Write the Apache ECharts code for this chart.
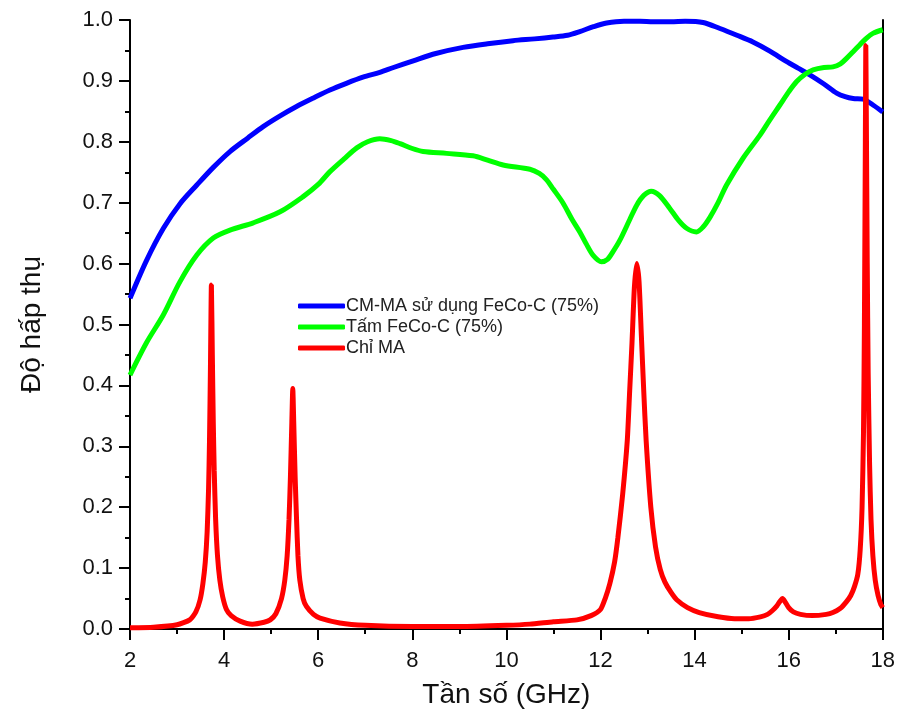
<!DOCTYPE html>
<html>
<head>
<meta charset="utf-8">
<script src="https://cdn.jsdelivr.net/npm/echarts@6/dist/echarts.min.js"></script>
<style>html,body{margin:0;padding:0;background:#fff;}#c{width:898px;height:725px;}</style>
</head>
<body>
<div id="c"></div>
<script>
// ---- data ----
const seriesNames = ['CM-MA sử dụng FeCo-C (75%)', 'Tấm FeCo-C (75%)', 'Chỉ MA'];
const xTickLabels = ['2', '4', '6', '8', '10', '12', '14', '16', '18'];

const blueX = [2.0, 2.35, 2.71, 3.06, 3.42, 3.77, 4.125, 4.5, 4.83, 5.2, 5.54, 5.9, 6.25, 6.6, 6.95, 7.31, 7.6, 8.02, 8.5, 9.08, 9.6, 10.14, 10.6, 10.99, 11.3, 11.56, 11.85, 12.13, 12.5, 12.84, 13.12, 13.5, 13.8, 14.18, 14.54, 14.9, 15.24, 15.6, 15.95, 16.2, 16.45, 16.75, 17.02, 17.2, 17.37, 17.58, 17.8, 18.0];
const blueY = [0.543, 0.605, 0.658, 0.698, 0.729, 0.758, 0.784, 0.806, 0.825, 0.843, 0.858, 0.872, 0.885, 0.896, 0.906, 0.914, 0.922, 0.933, 0.945, 0.955, 0.961, 0.966, 0.969, 0.972, 0.975, 0.981, 0.989, 0.995, 0.998, 0.998, 0.997, 0.997, 0.998, 0.996, 0.986, 0.975, 0.964, 0.949, 0.932, 0.921, 0.910, 0.895, 0.880, 0.874, 0.871, 0.870, 0.860, 0.849];

const greenX = [2.0, 2.35, 2.71, 3.06, 3.42, 3.77, 4.125, 4.62, 5.19, 5.68, 6.0, 6.25, 6.55, 6.82, 7.05, 7.31, 7.55, 7.74, 8.0, 8.23, 8.73, 9.29, 9.6, 9.93, 10.5, 10.7, 10.85, 11.0, 11.2, 11.4, 11.56, 11.7, 11.84, 12.02, 12.15, 12.27, 12.41, 12.62, 12.77, 12.92, 13.08, 13.25, 13.47, 13.65, 13.83, 14.04, 14.18, 14.32, 14.5, 14.68, 15.03, 15.39, 15.6, 15.81, 16.0, 16.17, 16.35, 16.52, 16.75, 16.94, 17.1, 17.23, 17.37, 17.51, 17.65, 17.79, 18.0];
const greenY = [0.417, 0.470, 0.516, 0.570, 0.614, 0.642, 0.655, 0.667, 0.685, 0.710, 0.730, 0.751, 0.772, 0.790, 0.800, 0.805, 0.802, 0.797, 0.789, 0.784, 0.781, 0.777, 0.770, 0.762, 0.755, 0.748, 0.738, 0.722, 0.700, 0.672, 0.652, 0.632, 0.614, 0.603, 0.607, 0.620, 0.638, 0.672, 0.696, 0.712, 0.719, 0.712, 0.691, 0.672, 0.658, 0.652, 0.660, 0.675, 0.700, 0.729, 0.773, 0.811, 0.836, 0.860, 0.882, 0.899, 0.911, 0.918, 0.922, 0.923, 0.928, 0.937, 0.948, 0.959, 0.970, 0.978, 0.984];

const redX = [2.0, 2.5, 3.0, 3.27, 3.4, 3.49, 3.55, 3.6, 3.64, 3.67, 3.69, 3.71, 3.73, 3.75, 3.77, 3.79, 3.82, 3.86, 3.91, 3.97, 4.05, 4.15, 4.34, 4.6, 4.85, 4.98, 5.1, 5.22, 5.29, 5.34, 5.38, 5.41, 5.44, 5.46, 5.48, 5.51, 5.54, 5.57, 5.61, 5.68, 5.75, 5.9, 6.04, 6.46, 7.0, 8.0, 9.0, 10.0, 10.5, 11.0, 11.5, 11.8, 12.0, 12.1, 12.2, 12.3, 12.37, 12.47, 12.57, 12.62, 12.67, 12.72, 12.77, 12.82, 12.87, 12.92, 12.97, 13.07, 13.17, 13.27, 13.37, 13.5, 13.62, 13.85, 14.1, 14.5, 14.85, 15.15, 15.4, 15.55, 15.65, 15.75, 15.82, 15.87, 15.92, 16.0, 16.1, 16.25, 16.5, 16.8, 16.94, 17.1, 17.23, 17.32, 17.4, 17.47, 17.52, 17.56, 17.59, 17.61, 17.63, 17.64, 17.65, 17.67, 17.69, 17.72, 17.75, 17.79, 17.84, 17.9, 17.96, 18.0];
const redY = [0.002, 0.003, 0.007, 0.015, 0.028, 0.048, 0.075, 0.11, 0.16, 0.23, 0.31, 0.43, 0.565, 0.45, 0.34, 0.26, 0.18, 0.12, 0.08, 0.053, 0.032, 0.022, 0.013, 0.008, 0.011, 0.015, 0.025, 0.05, 0.08, 0.12, 0.18, 0.25, 0.34, 0.395, 0.34, 0.25, 0.18, 0.12, 0.08, 0.05, 0.037, 0.024, 0.018, 0.01, 0.006, 0.004, 0.004, 0.006, 0.008, 0.012, 0.015, 0.022, 0.032, 0.05, 0.075, 0.11, 0.15, 0.22, 0.31, 0.39, 0.47, 0.56, 0.60, 0.57, 0.48, 0.39, 0.31, 0.20, 0.135, 0.098, 0.077, 0.06, 0.048, 0.035, 0.027, 0.02, 0.017, 0.017, 0.02, 0.024, 0.03, 0.038, 0.046, 0.05, 0.045, 0.035, 0.028, 0.024, 0.022, 0.024, 0.027, 0.034, 0.045, 0.055, 0.07, 0.09, 0.13, 0.2, 0.32, 0.5, 0.8, 0.958, 0.85, 0.6, 0.42, 0.27, 0.18, 0.12, 0.08, 0.055, 0.04, 0.035];

// ---- chart ----
const zip = (xs, ys) => xs.map((x, i) => [x, ys[i]]);
const font = 'Liberation Sans, Arial, sans-serif';
const chart = echarts.init(document.getElementById('c'), null, {renderer: 'canvas'});
const axisLine = {show: true, lineStyle: {color: '#000', width: 2}};
chart.setOption({
  animation: false,
  backgroundColor: '#fff',
  grid: {left: 130, right: 15, top: 20, bottom: 96, containLabel: false},
  legend: {
    orient: 'vertical', left: 293, top: 292, itemGap: 3,
    itemWidth: 47, itemHeight: 5, icon: 'roundRect',
    textStyle: {fontFamily: font, fontSize: 18, color: '#222', padding: [0, 0, 0, -4]},
    data: seriesNames
  },
  xAxis: [{
    type: 'value', min: 2, max: 18, interval: 2,
    axisLine: axisLine,
    axisTick: {show: true, length: 11, lineStyle: {color: '#000', width: 2}},
    minorTick: {show: true, splitNumber: 2, length: 5, lineStyle: {color: '#000', width: 2}},
    splitLine: {show: false},
    axisLabel: {margin: 21, fontFamily: font, fontSize: 22, color: '#111',
      formatter: v => xTickLabels[xTickLabels.indexOf(String(v))] || String(v)},
    name: 'Tần số (GHz)', nameLocation: 'middle', nameGap: 52,
    nameTextStyle: {fontFamily: font, fontSize: 28, color: '#111'}
  }, {
    type: 'value', position: 'top', min: 2, max: 18, interval: 2,
    axisLine: axisLine,
    axisTick: {show: true, inside: true, length: 11, lineStyle: {color: '#000', width: 2}},
    minorTick: {show: true, splitNumber: 2, length: 5, lineStyle: {color: '#000', width: 2}},
    splitLine: {show: false}, axisLabel: {show: false}
  }],
  yAxis: [{
    type: 'value', min: 0, max: 1, interval: 0.1,
    axisLine: axisLine,
    axisTick: {show: true, length: 11, lineStyle: {color: '#000', width: 2}},
    minorTick: {show: true, splitNumber: 2, length: 5, lineStyle: {color: '#000', width: 2}},
    splitLine: {show: false},
    axisLabel: {margin: 17, fontFamily: font, fontSize: 22, color: '#111', formatter: v => v.toFixed(1)},
    name: 'Độ hấp thụ', nameLocation: 'middle', nameGap: 84,
    nameTextStyle: {fontFamily: font, fontSize: 28, color: '#111'}
  }, {
    type: 'value', position: 'right', min: 0, max: 1,
    axisLine: axisLine, axisTick: {show: false}, splitLine: {show: false}, axisLabel: {show: false}
  }],
  series: [
    {name: seriesNames[0], type: 'line', data: zip(blueX, blueY), smooth: 0.3, showSymbol: false,
      lineStyle: {color: '#0000FF', width: 5}, itemStyle: {color: '#0000FF'}, z: 3},
    {name: seriesNames[1], type: 'line', data: zip(greenX, greenY), smooth: 0.3, showSymbol: false,
      lineStyle: {color: '#00FF00', width: 5}, itemStyle: {color: '#00FF00'}, z: 4},
    {name: seriesNames[2], type: 'line', data: zip(redX, redY), smooth: 0.2, showSymbol: false,
      lineStyle: {color: '#FF0000', width: 5}, itemStyle: {color: '#FF0000'}, z: 5}
  ]
});
</script>
</body>
</html>
